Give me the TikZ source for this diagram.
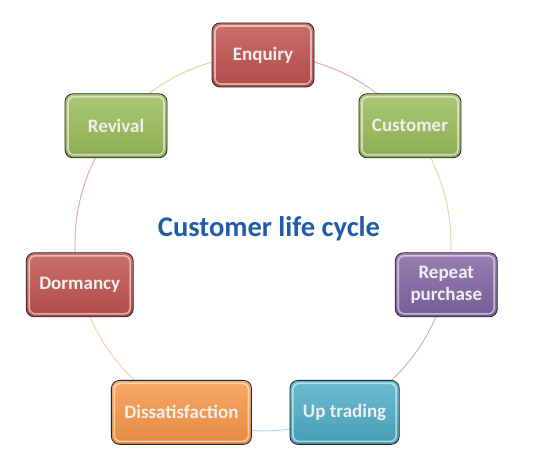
\documentclass[tikz,border=0pt]{standalone}
\usepackage{fontspec}
\setmainfont{Carlito}
\usetikzlibrary{calc}
\definecolor{cRed}{RGB}{192,80,77}
\definecolor{cGreen}{RGB}{155,187,89}
\definecolor{cPurple}{RGB}{128,100,162}
\definecolor{cBlue}{RGB}{75,172,198}
\definecolor{cOrange}{RGB}{247,150,70}
\definecolor{cTitle}{RGB}{33,92,168}
\tikzset{
  cyclebox/.style={rounded corners=8pt, draw=black!85, line width=0.8pt,
    minimum width=102pt, minimum height=64pt, inner xsep=13pt,
    text=white!94!black, align=center, font=\bfseries\fontsize{19}{22}\selectfont,
    top color=#1!82!white, bottom color=#1!92!black,
    path picture={\draw[white, opacity=0.55, line width=1.6pt, rounded corners=6pt]
      ([xshift=3pt,yshift=3pt]path picture bounding box.south west) rectangle
      ([xshift=-3pt,yshift=-3pt]path picture bounding box.north east);}},
  cyclearc/.style={line width=0.9pt, draw=#1!50!white, bend left=25.71, looseness=0.896},
}
\begin{document}
\begin{tikzpicture}[x=1pt,y=1pt]
\useasboundingbox[fill=white] (0,0) rectangle (553,466);
\coordinate (O) at (263,223);
\foreach \n/\a in {pE/90, pC/38.57, pR/-12.86, pU/-64.29, pD/-115.71, pM/-167.14, pV/141.43}
  \coordinate (\n) at ($(O)+(\a:188)$);
\draw[cyclearc=cRed] (pE) to (pC);
\draw[cyclearc=cGreen] (pC) to (pR);
\draw[cyclearc=cPurple] (pR) to (pU);
\draw[cyclearc=cBlue] (pU) to (pD);
\draw[cyclearc=cOrange] (pD) to (pM);
\draw[cyclearc=cRed] (pM) to (pV);
\draw[cyclearc=cGreen!70!orange] (pV) to (pE);
\node[cyclebox=cRed] (enq) at (pE) {Enquiry};
\node[cyclebox=cGreen] (cus) at (pC) {Customer};
\node[cyclebox=cPurple] (rep) at (pR) {Repeat\\purchase};
\node[cyclebox=cBlue] (upt) at (pU) {Up trading};
\node[cyclebox=cOrange] (dis) at (pD) {Dissatisfaction};
\node[cyclebox=cRed] (dor) at (pM) {Dormancy};
\node[cyclebox=cGreen] (rev) at (pV) {Revival};
\node[text=cTitle, font=\bfseries\fontsize{28.5}{32}\selectfont] (title) at (269,237) {Customer life cycle};
\end{tikzpicture}
\end{document}
